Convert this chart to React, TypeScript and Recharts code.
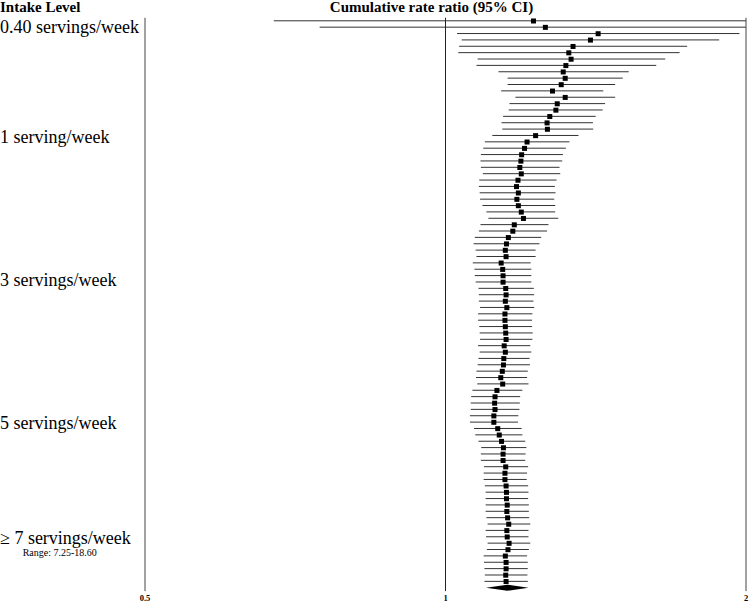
import React from 'react';
import { ComposedChart, Bar, Line, XAxis, YAxis, ReferenceLine } from 'recharts';

// Cumulative rate ratios (ordered by increasing intake level)
const studyEstimate = [
  1.225, 1.259, 1.422, 1.397, 1.342, 1.329, 1.336, 1.320, 1.312, 1.318,
  1.306, 1.280, 1.318, 1.294, 1.290, 1.272, 1.264, 1.265, 1.231, 1.207,
  1.200, 1.192, 1.190, 1.187, 1.191, 1.182, 1.178, 1.183, 1.179, 1.183,
  1.191, 1.197, 1.172, 1.168, 1.156, 1.151, 1.148, 1.150, 1.137, 1.141,
  1.142, 1.142, 1.149, 1.150, 1.148, 1.152, 1.147, 1.147, 1.148, 1.149,
  1.150, 1.145, 1.148, 1.144, 1.143, 1.140, 1.136, 1.141, 1.126, 1.121,
  1.120, 1.121, 1.118, 1.118, 1.128, 1.132, 1.138, 1.143, 1.142, 1.142,
  1.149, 1.147, 1.147, 1.150, 1.151, 1.151, 1.153, 1.152, 1.154, 1.157,
  1.152, 1.153, 1.158, 1.155, 1.148, 1.150, 1.150, 1.149, 1.150,
];
const studyLower = [
  0.673, 0.748, 1.027, 1.038, 1.032, 1.030, 1.077, 1.074, 1.130, 1.154,
  1.154, 1.137, 1.175, 1.159, 1.157, 1.142, 1.138, 1.140, 1.114, 1.095,
  1.091, 1.085, 1.084, 1.085, 1.090, 1.081, 1.080, 1.082, 1.083, 1.089,
  1.099, 1.104, 1.084, 1.080, 1.070, 1.067, 1.072, 1.074, 1.065, 1.069,
  1.070, 1.072, 1.079, 1.080, 1.080, 1.083, 1.078, 1.078, 1.081, 1.082,
  1.083, 1.078, 1.082, 1.079, 1.077, 1.074, 1.073, 1.076, 1.064, 1.061,
  1.060, 1.060, 1.058, 1.058, 1.068, 1.071, 1.079, 1.086, 1.085, 1.085,
  1.093, 1.092, 1.092, 1.095, 1.097, 1.097, 1.097, 1.097, 1.099, 1.102,
  1.097, 1.098, 1.102, 1.100, 1.092, 1.093, 1.094, 1.095, 1.094,
];
const studyUpper = [
  2.400, 2.300, 1.970, 1.880, 1.746, 1.716, 1.660, 1.626, 1.526, 1.505,
  1.479, 1.439, 1.479, 1.445, 1.437, 1.414, 1.405, 1.406, 1.359, 1.331,
  1.320, 1.311, 1.309, 1.301, 1.303, 1.292, 1.287, 1.289, 1.285, 1.288,
  1.288, 1.297, 1.268, 1.264, 1.247, 1.242, 1.231, 1.231, 1.217, 1.219,
  1.219, 1.219, 1.226, 1.227, 1.225, 1.227, 1.222, 1.221, 1.221, 1.223,
  1.222, 1.216, 1.219, 1.214, 1.215, 1.209, 1.207, 1.211, 1.194, 1.188,
  1.187, 1.186, 1.183, 1.182, 1.192, 1.194, 1.202, 1.205, 1.203, 1.202,
  1.210, 1.207, 1.206, 1.210, 1.211, 1.210, 1.212, 1.212, 1.213, 1.216,
  1.211, 1.211, 1.216, 1.212, 1.207, 1.209, 1.209, 1.208, 1.209,
];
const pooledEstimate = 1.153;
const pooledLower = 1.098;
const pooledUpper = 1.211;

const axisTicks = [0.5, 1, 2];
const titleText = 'Cumulative rate ratio (95% CI)';
const columnHeader = 'Intake Level';
const intakeLabels = [
  '0.40 servings/week',
  '1 serving/week',
  '3 servings/week',
  '5 servings/week',
  '\u2265 7 servings/week',
];
const rangeNote = 'Range: 7.25-18.60';

// layout (pixel baselines of the side labels)
const labelBaselines = [33.3, 143.2, 285.5, 428.5, 544];

const FONT = '"Liberation Serif", "Times New Roman", Times, serif';

const chartData = [
  ...studyEstimate.map((e, i) => ({
    row: i + 1,
    est: e,
    ci: [studyLower[i], studyUpper[i]],
    pooled: false,
  })),
  {
    row: studyEstimate.length + 1,
    est: null,
    ci: [pooledLower, pooledUpper],
    pooled: true,
    pooledEst: pooledEstimate,
  },
];

const CiShape = (props: any) => {
  const { x, y, width, height, payload } = props;
  const cy = y + height / 2;
  if (payload && payload.pooled) {
    const h = 3;
    const cx = x + width / 2;
    return (
      <polygon
        points={`${x},${cy} ${cx},${cy - h} ${x + width},${cy} ${cx},${cy + h}`}
        fill="#000"
      />
    );
  }
  return <line x1={x} x2={x + width} y1={cy} y2={cy} stroke="#333" strokeWidth={1} />;
};

const SquareDot = (props: any) => {
  const { cx, cy, index, payload } = props;
  if (cx == null || cy == null || (payload && payload.pooled)) return <g key={`d-${index}`} />;
  const s = 5;
  return <rect key={`d-${index}`} x={cx - s / 2} y={cy - s / 2} width={s} height={s} fill="#000" />;
};

const AxisTick = (props: any) => {
  const { x, y, payload } = props;
  return (
    <text
      x={x}
      y={y}
      dy={6}
      textAnchor="middle"
      fontFamily={FONT}
      fontWeight="bold"
      fontSize={8.5}
      fill="#000"
    >
      {String(payload.value)}
    </text>
  );
};

export default function App() {
  return (
    <div style={{ position: 'absolute', left: 0, top: 0, width: 750, height: 603, background: '#fff' }}>
      <ComposedChart
        width={750}
        height={603}
        data={chartData}
        layout="vertical"
        margin={{ top: 17.8, right: 4, bottom: 0, left: 145 }}
      >
        <XAxis
          type="number"
          scale="log"
          domain={[0.5, 2]}
          allowDataOverflow
          ticks={axisTicks}
          interval={0}
          tickSize={0}
          tickMargin={4}
          axisLine={false}
          tickLine={false}
          height={11.9}
          tick={AxisTick}
        />
        <YAxis type="category" dataKey="row" hide />
        <ReferenceLine x={0.5} stroke="#444" strokeWidth={1} />
        <ReferenceLine x={1} stroke="#222" strokeWidth={1} />
        <ReferenceLine x={2} stroke="#444" strokeWidth={1} />
        <Bar dataKey="ci" barSize={6} shape={CiShape} isAnimationActive={false} />
        <Line
          dataKey="est"
          stroke="none"
          dot={SquareDot}
          activeDot={false}
          isAnimationActive={false}
          legendType="none"
        />
      </ComposedChart>
      <svg
        width={750}
        height={603}
        style={{ position: 'absolute', left: 0, top: 0, pointerEvents: 'none' }}
      >
        <text x={0} y={11.5} fontFamily={FONT} fontWeight="bold" fontSize={15} fill="#000">
          {columnHeader}
        </text>
        <text x={431.5} y={11.5} textAnchor="middle" fontFamily={FONT} fontWeight="bold" fontSize={15} fill="#000">
          {titleText}
        </text>
        {intakeLabels.map((t, i) => (
          <text key={t} x={0} y={labelBaselines[i]} fontFamily={FONT} fontSize={18} fill="#000">
            {t}
          </text>
        ))}
        <text x={22.7} y={555.5} fontFamily={FONT} fontSize={10} fill="#000">
          {rangeNote}
        </text>
      </svg>
    </div>
  );
}
